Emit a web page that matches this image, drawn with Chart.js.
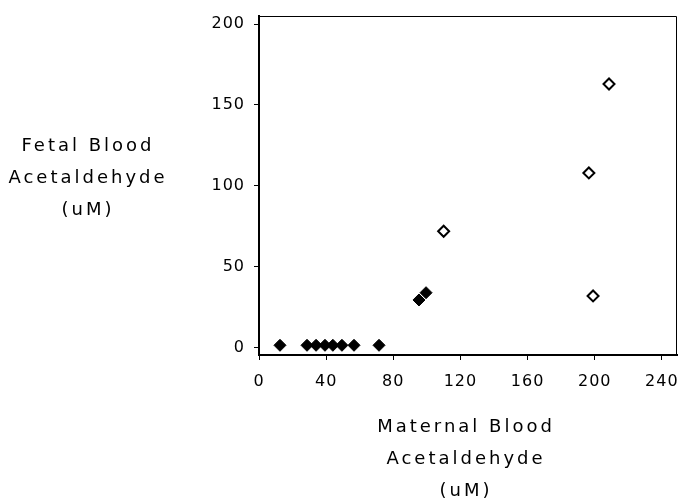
<!DOCTYPE html>
<html>
<head>
<meta charset="utf-8">
<script src="https://cdn.jsdelivr.net/npm/chart.js@4"></script>
<style>
  html, body { margin: 0; padding: 0; background: #fff; }
  #wrap { width: 678px; height: 504px; }
</style>
</head>
<body>
<div id="wrap"><canvas id="chart" width="678" height="504"></canvas></div>
<script>
// values
const filledX = [12.5, 28.6, 34, 39.3, 44, 49.4, 56.6, 71.5, 95.3, 99.5];
const filledY = [1.5, 1.5, 1.5, 1.5, 1.5, 1.5, 1.5, 1.5, 29.5, 34];
const openX = [110, 196.5, 199, 208.5];
const openY = [72, 108, 32, 163];
const xTicks = [0, 40, 80, 120, 160, 200, 240];
const yTicks = [0, 50, 100, 150, 200];
const yTitle = ["Fetal Blood", "Acetaldehyde", "(uM)"];
const xTitle = ["Maternal Blood", "Acetaldehyde", "(uM)"];

const FONT = "'DejaVu Sans', sans-serif";

function toPoints(xs, ys) {
    return xs.map((x, i) => ({ x: x, y: ys[i] }));
}

// wide spacing for tick labels, thin top/right frame and the block titles
const framePlugin = {
    id: "frame",
    beforeDraw(chart) {
        chart.ctx.letterSpacing = "1px";
    },
    afterDraw(chart) {
        const ctx = chart.ctx;
        const a = chart.chartArea;
        ctx.letterSpacing = "0px";
        ctx.save();
        ctx.strokeStyle = "#000";
        ctx.lineWidth = 1;
        ctx.beginPath();
        ctx.moveTo(a.left, a.top + 0.5);
        ctx.lineTo(a.right - 0.5, a.top + 0.5);
        ctx.lineTo(a.right - 0.5, a.bottom);
        ctx.stroke();

        ctx.fillStyle = "#000";
        ctx.font = "18px " + FONT;
        ctx.letterSpacing = "3px";
        ctx.textAlign = "center";
        ctx.textBaseline = "middle";
        yTitle.forEach((t, i) => ctx.fillText(t, 88, 146 + i * 32));
        xTitle.forEach((t, i) => ctx.fillText(t, 466, 427 + i * 32));
        ctx.restore();
    }
};

new Chart(document.getElementById("chart"), {
    type: "scatter",
    data: {
        datasets: [
            {
                data: toPoints(filledX, filledY),
                pointStyle: "rectRot",
                pointRadius: 6,
                backgroundColor: "#000",
                borderColor: "#000",
                borderWidth: 1
            },
            {
                data: toPoints(openX, openY),
                pointStyle: "rectRot",
                pointRadius: 5.5,
                backgroundColor: "#fff",
                borderColor: "#000",
                borderWidth: 2
            }
        ]
    },
    options: {
        responsive: false,
        animation: false,
        layout: { autoPadding: false, padding: { top: 16, right: 1, left: 0, bottom: 0 } },
        plugins: {
            legend: { display: false },
            tooltip: { enabled: false }
        },
        scales: {
            x: {
                type: "linear",
                min: 0,
                max: 249,
                afterBuildTicks: s => { s.ticks = xTicks.map(v => ({ value: v })); },
                afterFit: s => { s.height = 149; s.paddingLeft = 0; s.paddingRight = 0; },
                grid: { drawOnChartArea: false, tickLength: 5, color: "#000", lineWidth: 1 },
                border: { color: "#000", width: 2 },
                ticks: { color: "#000", font: { family: FONT, size: 16 }, padding: 12, maxRotation: 0 }
            },
            y: {
                min: -4.5,
                max: 205,
                afterBuildTicks: s => { s.ticks = yTicks.map(v => ({ value: v })); },
                afterFit: s => { s.width = 259; s.paddingTop = 0; s.paddingBottom = 0; },
                grid: { drawOnChartArea: false, tickLength: 5, color: "#000", lineWidth: 1 },
                border: { color: "#000", width: 2 },
                ticks: { color: "#000", font: { family: FONT, size: 16 }, padding: 9 }
            }
        }
    },
    plugins: [framePlugin]
});
</script>
</body>
</html>
